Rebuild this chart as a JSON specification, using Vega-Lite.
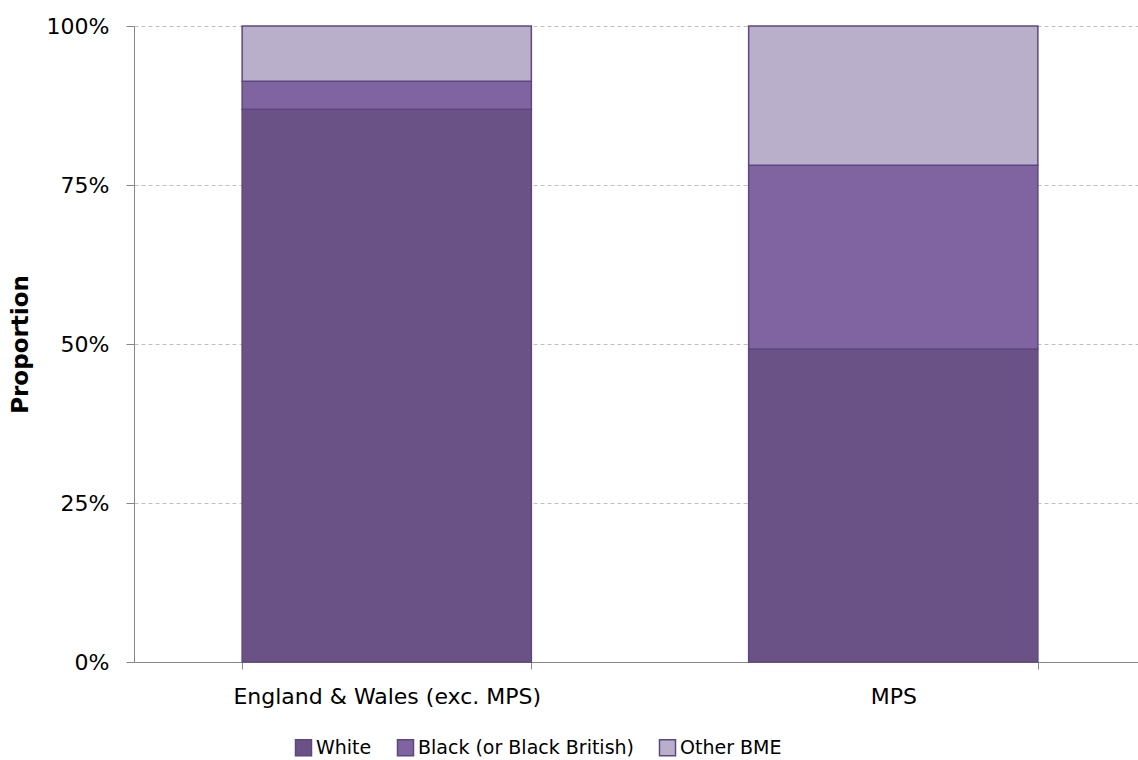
{
  "$schema": "https://vega.github.io/schema/vega-lite/v6.json",
  "width": 1004,
  "height": 636,
  "autosize": {"type": "none"},
  "padding": {"left": 134, "top": 26, "right": 0, "bottom": 98},
  "background": "white",
  "config": {
    "view": {"stroke": null},
    "font": "DejaVu Sans"
  },
  "data": {
    "values": [
      {"area": "England & Wales (exc. MPS)", "group": "White", "ord": 1, "value": 86.9},
      {"area": "England & Wales (exc. MPS)", "group": "Black (or Black British)", "ord": 2, "value": 4.4},
      {"area": "England & Wales (exc. MPS)", "group": "Other BME", "ord": 3, "value": 8.7},
      {"area": "MPS", "group": "White", "ord": 1, "value": 49.2},
      {"area": "MPS", "group": "Black (or Black British)", "ord": 2, "value": 28.9},
      {"area": "MPS", "group": "Other BME", "ord": 3, "value": 21.9}
    ]
  },
  "mark": {"type": "bar", "stroke": "#5E4780", "strokeWidth": 1.5},
  "encoding": {
    "x": {
      "field": "area", "type": "nominal", "sort": null,
      "scale": {"paddingInner": 0.429, "paddingOuter": 0.2135, "range": [0, 1012]},
      "axis": {
        "title": null, "labelAngle": 0, "labelFontSize": 22, "labelColor": "#000000",
        "labelLimit": 0, "labelPadding": 17, "domainColor": "#868686", "tickColor": "#868686",
        "tickBand": "extent", "tickSize": 7, "grid": false
      }
    },
    "y": {
      "field": "value", "type": "quantitative", "stack": "normalize",
      "scale": {"domain": [0, 1], "nice": false},
      "axis": {
        "title": "Proportion", "titleFontSize": 23, "titleFontWeight": "bold", "titleColor": "#000000",
        "titlePadding": 14,
        "format": ".0%", "values": [0, 0.25, 0.5, 0.75, 1],
        "labelFontSize": 22, "labelColor": "#000000", "labelPadding": 17, "labelLimit": 0,
        "domainColor": "#868686", "tickColor": "#868686", "tickSize": 8,
        "grid": true, "gridColor": "#BFBFBF", "gridDash": [4, 3], "gridWidth": 1
      }
    },
    "color": {
      "field": "group", "type": "nominal",
      "scale": {
        "domain": ["White", "Black (or Black British)", "Other BME"],
        "range": ["#6A5287", "#8064A2", "#B9AFCA"]
      },
      "legend": {
        "title": null, "orient": "none", "direction": "horizontal",
        "legendX": 160, "legendY": 712, "labelLimit": 0,
        "symbolType": "square", "symbolSize": 256, "symbolStrokeColor": "#5E4780", "symbolStrokeWidth": 1.5,
        "labelFontSize": 19, "labelColor": "#000000", "columnPadding": 22, "labelOffset": 3
      }
    },
    "order": {"field": "ord", "type": "quantitative"}
  }
}
